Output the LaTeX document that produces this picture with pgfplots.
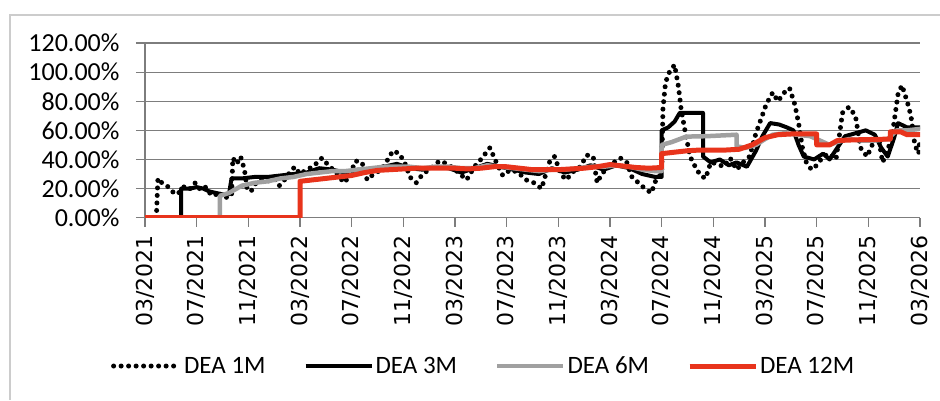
\documentclass[border=0pt]{standalone}
\usepackage{fontspec}
\setmainfont{Carlito}
\newfontfamily\verdfont{DejaVu Sans}
\usepackage{pgfplots}
\pgfplotsset{compat=1.18}
\definecolor{gridc}{RGB}{125,125,125}
\definecolor{deared}{RGB}{232,52,28}
\definecolor{deagray}{RGB}{160,160,160}

% x = months since 03/2021, y = percent
\pgfplotstableread{
m y
0.9 5
1.0 27
1.3 24
1.7 22
2.1 18
2.5 16
2.8 19
3.1 22
3.5 20
3.9 24
4.3 19
4.7 21
5.0 17
5.4 15
5.7 18
6.0 14
6.4 14
6.7 15
6.8 41
7.1 37
7.4 42
7.7 33
7.9 20
8.2 18
8.6 24
9.0 26
9.5 25
10.0 27
10.4 22
10.8 26
11.2 31
11.6 35
12.0 30
12.5 33
13.0 35
13.7 41
14.2 36
14.8 31
15.4 24
15.8 28
16.3 39
16.8 38
17.2 26
17.7 30
18.3 33
18.8 40
19.2 46
19.7 44
20.2 36
20.5 28
21.0 24
21.5 30
22.0 33
22.8 39
23.4 37
24.0 33
24.9 26
25.5 35
26.0 40
26.7 48
27.2 38
27.7 29
28.3 33
28.9 31
29.5 26
30.1 24
30.7 20
31.3 38
31.7 42
32.2 30
32.6 26
33.2 32
33.7 35
34.2 43
34.7 42
35.0 24
35.3 29
35.8 35
36.3 38
36.8 41
37.3 38
37.7 28
38.2 24
38.7 20
39.2 17
39.6 27
40.0 30
40.1 75
40.3 93
40.6 100
41.0 105
41.3 90
41.5 75
41.8 60
42.2 42
42.6 35
43.0 29
43.4 27
43.8 38
44.3 37
44.8 35
45.3 41
45.8 33
46.3 38
46.8 42
47.3 58
47.7 68
48.1 78
48.6 86
49.0 80
49.5 86
49.9 89
50.3 78
50.6 65
50.9 48
51.2 38
51.6 33
52.0 36
52.5 42
53.0 44
53.5 40
54.0 72
54.5 76
55.0 70
55.4 48
55.9 42
56.3 50
56.8 55
57.1 38
57.5 46
57.9 60
58.3 85
58.6 91
59.0 80
59.3 70
59.6 50
59.9 44
60.0 55
}\deaone

\pgfplotstableread{
m y
0 0
2.8 0
2.8 20
3.5 20
4.0 21
4.5 20
5.0 18
5.5 17
6.0 16
6.5 16
6.7 27
7.5 27
8.5 28
9.5 28
10.5 29
11.5 30
12.5 31
13.5 34
14.5 33
15.5 31
16.5 33
17.5 32
18.5 35
19.5 37
20.5 34
21.5 33
22.5 35
23.5 34
24.5 31
25.5 34
26.5 37
27.5 35
28.5 33
29.5 31
30.5 30
31.5 34
32.5 31
33.5 33
34.5 36
35.5 33
36.5 36
37.5 34
38.5 30
39.5 28
40.0 28
40.0 60
40.5 62
41.0 66
41.4 72
43.2 72
43.2 42
43.8 38
44.5 40
45.2 36
45.8 38
46.6 35
47.3 46
47.8 56
48.4 65
49.1 64
49.7 62
50.2 60
50.6 50
51.0 42
51.8 40
52.5 44
53.0 40
53.6 48
54.2 56
55.0 58
55.8 60
56.5 57
57.0 48
57.5 42
58.0 55
58.3 65
59.0 62
60.0 62
}\deathree

\pgfplotstableread{
m y
0 0
5.8 0
5.8 15
6.5 17
7.5 22
8.5 24
9.5 25
10.5 27
11.5 28
12.5 30
13.5 31
14.5 32
15.5 32
16.5 33
17.5 34
18.5 35
19.5 35
20.5 35
21.5 34
22.5 35
23.5 35
24.5 34
25.5 34
26.5 36
27.5 35
28.5 34
29.5 33
30.5 32
31.5 33
32.5 33
33.5 34
34.5 35
35.5 35
36.5 36
37.5 35
38.5 33
39.5 32
40.0 32
40.0 50
40.8 52
41.9 55.7
43.5 56
45.8 57
45.8 49
46.5 48
47.3 50
48.0 54
48.6 57
49.5 58
50.5 57
51.5 56
52.0 54
52.5 52
53.0 50
53.6 52
54.5 54
55.5 53
56.5 53
57.5 54
58.2 60
59.0 60
60.0 61
}\deasix

\pgfplotstableread{
m y
0 0
12 0
12 25
13 26
14 27
15 28
16 29
17 31
18 32.5
19 33
20 33.5
21 34
22 34
23 34
24 34
25 33.5
26 34
27 35
28 35
29 34
30 33
31 33
32 33
33 33.5
34 34
35 35
36 36.5
37 35.5
38 34.5
39 34
40 34.5
40 44
41 45
42 46
43 46.5
44 46.5
45 46.5
46 47
47 50
48 55
49 57
50 57.5
51 57.5
52 57.5
52 50
53 50
53.6 53
55 53.5
57.7 54
57.7 59
58.5 59
59 57
60 57
}\deatwelve

\begin{document}
\begin{tikzpicture}[x=1pt,y=1pt]
\useasboundingbox (0,0) rectangle (940,400);
\draw[black!20, line width=1.5pt] (10,0) -- (10,385) -- (940,385);
\begin{axis}[
  at={(145pt,182.3pt)}, anchor=south west,
  scale only axis, width=775pt, height=174.7pt,
  xmin=0, xmax=60, ymin=0, ymax=120,
  axis x line*=bottom, axis y line*=left,
  axis line style={gridc, line width=1.2pt, -},
  xtick={0,4,...,60},
  xticklabels={03/2021,07/2021,11/2021,03/2022,07/2022,11/2022,03/2023,07/2023,11/2023,03/2024,07/2024,11/2024,03/2025,07/2025,11/2025,03/2026},
  xticklabel style={font=\verdfont\fontsize{22}{22}\selectfont, rotate=90, anchor=east},
  xticklabel shift=5pt,
  ytick={0,20,...,120},
  yticklabel={\pgfmathprintnumber[fixed,fixed zerofill,precision=2,assume math mode=true]{\tick}\%},
  yticklabel style={font=\fontsize{26}{26}\selectfont},
  yticklabel shift=13pt,
  ymajorgrids, major grid style={gridc, line width=1.2pt},
  tick align=outside, major tick length=9pt,
  tick style={gridc, line width=1.2pt},
  legend columns=-1,
  legend image code/.code={\draw[#1] (0pt,0pt) -- (66pt,0pt);},
  legend style={draw=none, fill=none, at={(0.437,-0.849)}, anchor=center,
    font=\fontsize{25}{25}\selectfont,
    /tikz/every even column/.append style={column sep=36pt}},
]
\addplot[black, line width=5pt, line cap=round, line join=round, dash pattern=on 0pt off 7.5pt] table[x=m,y=y]{\deaone};
\addlegendentry{DEA 1M}
\addplot[black, line width=4pt, line join=round] table[x=m,y=y]{\deathree};
\addlegendentry{DEA 3M}
\addplot[deagray, line width=4.5pt, line join=round] table[x=m,y=y]{\deasix};
\addlegendentry{DEA 6M}
\addplot[deared, line width=5pt, line join=round] table[x=m,y=y]{\deatwelve};
\addlegendentry{DEA 12M}
\end{axis}
\end{tikzpicture}
\end{document}
